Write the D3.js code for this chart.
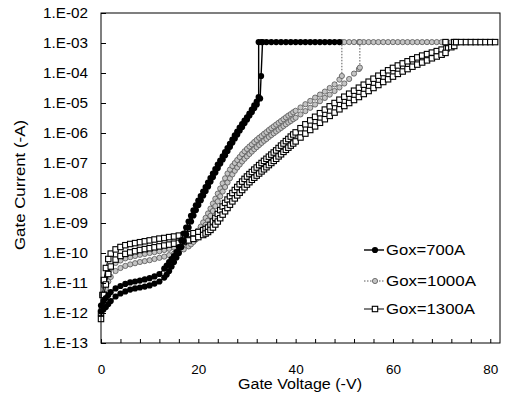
<!DOCTYPE html>
<html><head><meta charset="utf-8">
<script src="https://cdn.jsdelivr.net/npm/d3@7"></script>
<style>
body{margin:0;background:#fff}
svg{display:block}
text{font-family:Arial,"Liberation Sans",sans-serif;fill:#000}
</style>
</head><body>
<svg id="chart" width="508" height="409"></svg>
<script>
// ---------------- DATA: [gate voltage (-V), log10 of gate current (-A)] ----------------
const seriesNames = ["Gox=700A", "Gox=1000A", "Gox=1300A"];
const complianceLogI = -2.97;

// Gox=700A, two sweeps
const g700_sweep1 = [[0,-11.75],[0.5,-11.6],[1,-11.5],[1.5,-11.4],[2,-11.3],[3,-11.18],[4,-11.1],[5,-11.03],[6,-10.98],[7,-10.95],[8,-10.92],[9,-10.88],[10,-10.84],[11,-10.78],[12,-10.7],
  [13,-10.52],[13.5,-10.42],[14,-10.3],[14.5,-10.2],[15,-10.1],[15.5,-9.97],[16,-9.8],[16.5,-9.58],[17,-9.35],[17.5,-9.15],[18,-8.95],[18.5,-8.76],[19,-8.58],[19.5,-8.41],[20,-8.25],
  [20.5,-8.1],[21,-7.95],[21.5,-7.8],[22,-7.65],[22.5,-7.5],[23,-7.35],[23.5,-7.2],[24,-7.05],[24.5,-6.92],[25,-6.78],[25.5,-6.64],[26,-6.5],[26.5,-6.36],[27,-6.22],[27.5,-6.08],
  [28,-5.95],[28.5,-5.82],[29,-5.7],[29.5,-5.59],[30,-5.48],[30.5,-5.35],[31,-5.22],[31.5,-5.08],[32,-4.95],[32.4,-4.8],[32.4,-2.97]];
const g700_sweep2 = [[0,-11.95],[0.5,-11.88],[1,-11.8],[1.5,-11.7],[2,-11.6],[3,-11.45],[4,-11.35],[5,-11.28],[6,-11.22],[7,-11.18],[8,-11.15],[9,-11.12],[10,-11.08],[11,-11.02],[12,-10.95],
  [13,-10.82],[13.5,-10.72],[14,-10.6],[14.5,-10.45],[15,-10.3],[15.5,-10.15],[16,-10.0],[16.5,-9.8],[17,-9.6],[17.5,-9.38],[18,-9.15],[18.5,-8.95],[19,-8.75],[19.5,-8.57],[20,-8.4],
  [20.5,-8.24],[21,-8.08],[21.5,-7.93],[22,-7.78],[22.5,-7.62],[23,-7.47],[23.5,-7.32],[24,-7.17],[24.5,-7.02],[25,-6.88],[25.5,-6.74],[26,-6.6],[26.5,-6.46],[27,-6.32],[27.5,-6.18],
  [28,-6.05],[28.5,-5.92],[29,-5.8],[29.5,-5.67],[30,-5.55],[30.5,-5.42],[31,-5.3],[31.5,-5.17],[32,-5.05],[32.7,-4.85],[32.9,-4.1],[33.2,-2.97]];
const g700_complianceV = [33,34,35,36,37,38,39,40,41,42,43,44,45,46,47,48,49];

// Gox=1000A, two sweeps
const g1000_sweep1 = [[0,-11.9],[0.3,-11.4],[0.6,-11.1],[1,-10.9],[1.5,-10.65],[2,-10.5],[3,-10.33],[4,-10.25],[5,-10.18],[6,-10.14],[7,-10.1],[8,-10.06],[9,-10.03],[10,-10.0],[11,-9.97],[12,-9.94],
  [13,-9.9],[14,-9.86],[15,-9.82],[16,-9.78],[17,-9.7],[18,-9.6],[18.5,-9.53],[19,-9.45],[19.5,-9.36],[20,-9.25],[20.5,-9.12],[21,-8.98],[21.5,-8.83],[22,-8.68],[22.5,-8.52],[23,-8.35],
  [23.5,-8.19],[24,-8.02],[24.5,-7.85],[25,-7.68],[25.5,-7.51],[26,-7.35],[26.5,-7.22],[27,-7.1],[27.5,-7.0],[28,-6.9],[28.5,-6.8],[29,-6.7],[29.5,-6.61],[30,-6.53],[30.5,-6.45],
  [31,-6.38],[31.5,-6.3],[32,-6.23],[32.5,-6.16],[33,-6.1],[33.5,-6.03],[34,-5.97],[34.5,-5.9],[35,-5.84],[35.5,-5.78],[36,-5.72],[36.5,-5.66],[37,-5.6],[37.5,-5.54],[38,-5.48],
  [38.5,-5.42],[39,-5.37],[39.5,-5.31],[40,-5.26],[41,-5.15],[42,-5.04],[43,-4.93],[44,-4.82],[45,-4.72],[46,-4.62],[47,-4.5],[48,-4.38],[49,-4.22],[49.5,-4.1],[49.5,-2.97]];
const g1000_sweep2 = [[0,-12.1],[0.3,-11.7],[0.6,-11.4],[1,-11.2],[1.5,-10.95],[2,-10.8],[3,-10.6],[4,-10.5],[5,-10.43],[6,-10.38],[7,-10.34],[8,-10.3],[9,-10.27],[10,-10.24],[11,-10.2],
  [12,-10.16],[13,-10.12],[14,-10.07],[15,-10.02],[16,-9.96],[17,-9.88],[18,-9.78],[18.5,-9.71],[19,-9.63],[19.5,-9.55],[20,-9.45],[20.5,-9.33],[21,-9.2],[21.5,-9.06],[22,-8.92],
  [22.5,-8.76],[23,-8.6],[23.5,-8.44],[24,-8.28],[24.5,-8.11],[25,-7.95],[25.5,-7.8],[26,-7.65],[26.5,-7.51],[27,-7.38],[27.5,-7.26],[28,-7.15],[28.5,-7.05],[29,-6.95],[29.5,-6.86],
  [30,-6.78],[30.5,-6.7],[31,-6.62],[31.5,-6.54],[32,-6.47],[32.5,-6.4],[33,-6.33],[33.5,-6.26],[34,-6.2],[34.5,-6.13],[35,-6.07],[35.5,-6.01],[36,-5.95],[36.5,-5.89],[37,-5.83],
  [37.5,-5.77],[38,-5.71],[38.5,-5.65],[39,-5.6],[39.5,-5.54],[40,-5.49],[41,-5.38],[42,-5.27],[43,-5.16],[44,-5.05],[45,-4.94],[46,-4.83],[47,-4.72],[48,-4.6],[49,-4.48],[50,-4.35],
  [51,-4.2],[52,-4.02],[53,-3.87],[53.2,-3.82],[53.2,-2.97]];
const g1000_complianceV = [50,51,52,53,54,55,56,57,58,59,60,61,62,63,64,65,66,67,68,69,70,71,72];

// Gox=1300A, two sweeps
const g1300_sweep1 = [[0,-12.0],[0.3,-11.4],[0.6,-10.9],[1,-10.5],[1.5,-10.2],[2,-10.02],[3,-9.88],[4,-9.8],[5,-9.74],[6,-9.7],[7,-9.67],[8,-9.64],[9,-9.61],[10,-9.58],[11,-9.55],[12,-9.52],
  [13,-9.5],[14,-9.47],[15,-9.45],[16,-9.42],[17,-9.4],[18,-9.37],[19,-9.34],[20,-9.3],[21,-9.24],[21.5,-9.2],[22,-9.15],[22.5,-9.06],[23,-8.95],[23.5,-8.83],[24,-8.7],[24.5,-8.57],
  [25,-8.45],[25.5,-8.33],[26,-8.22],[26.5,-8.11],[27,-8.0],[27.5,-7.9],[28,-7.8],[28.5,-7.71],[29,-7.62],[29.5,-7.53],[30,-7.45],[30.5,-7.37],[31,-7.3],[31.5,-7.22],[32,-7.15],
  [32.5,-7.07],[33,-7.0],[33.5,-6.93],[34,-6.86],[34.5,-6.79],[35,-6.72],[35.5,-6.65],[36,-6.58],[36.5,-6.5],[37,-6.42],[37.5,-6.35],[38,-6.27],[38.5,-6.2],[39,-6.12],[39.5,-6.05],
  [40,-5.98],[41,-5.84],[42,-5.71],[43,-5.58],[44,-5.46],[45,-5.34],[46,-5.22],[47,-5.11],[48,-5.0],[49,-4.89],[50,-4.79],[51,-4.69],[52,-4.59],[53,-4.49],[54,-4.39],[55,-4.29],
  [56,-4.19],[57,-4.09],[58,-4.0],[59,-3.91],[60,-3.83],[61,-3.75],[62,-3.68],[63,-3.61],[64,-3.54],[65,-3.48],[66,-3.42],[67,-3.37],[68,-3.32],[69,-3.27],[70,-3.22],[71,-3.18],
  [72,-3.14],[72.6,-3.1],[72.6,-2.97]];
const g1300_sweep2 = [[0,-12.2],[0.3,-11.8],[0.6,-11.4],[1,-11.05],[1.5,-10.7],[2,-10.45],[3,-10.22],[4,-10.1],[5,-10.03],[6,-9.98],[7,-9.94],[8,-9.9],[9,-9.87],[10,-9.84],[11,-9.81],
  [12,-9.78],[13,-9.75],[14,-9.72],[15,-9.69],[16,-9.66],[17,-9.62],[18,-9.58],[19,-9.53],[20,-9.47],[21,-9.4],[21.5,-9.35],[22,-9.3],[22.5,-9.23],[23,-9.15],[23.5,-9.05],[24,-8.95],
  [24.5,-8.84],[25,-8.72],[25.5,-8.61],[26,-8.5],[26.5,-8.39],[27,-8.28],[27.5,-8.18],[28,-8.08],[28.5,-7.99],[29,-7.9],[29.5,-7.81],[30,-7.72],[30.5,-7.64],[31,-7.56],[31.5,-7.49],
  [32,-7.42],[32.5,-7.35],[33,-7.28],[33.5,-7.21],[34,-7.14],[34.5,-7.07],[35,-7.0],[35.5,-6.93],[36,-6.86],[36.5,-6.78],[37,-6.71],[37.5,-6.63],[38,-6.56],[38.5,-6.49],[39,-6.42],
  [39.5,-6.35],[40,-6.28],[41,-6.15],[42,-6.02],[43,-5.9],[44,-5.78],[45,-5.66],[46,-5.54],[47,-5.43],[48,-5.32],[49,-5.21],[50,-5.1],[51,-5.0],[52,-4.9],[53,-4.8],[54,-4.7],
  [55,-4.6],[56,-4.5],[57,-4.4],[58,-4.3],[59,-4.21],[60,-4.12],[61,-4.03],[62,-3.95],[63,-3.87],[64,-3.79],[65,-3.72],[66,-3.65],[67,-3.58],[68,-3.51],[69,-3.45],[70,-3.39],
  [70.8,-3.33],[70.8,-2.97]];
const g1300_complianceV = [73,74,75,76,77,78,79,80,81];

// Axis ticks
const xTickValues = [0,4,8,12,16,20,24,28,32,36,40,44,48,52,56,60,64,68,72,76,80];
const xTickLabels = ["0","20","40","60","80"];
const yTickValues = [1e-13,1e-12,1e-11,1e-10,1e-9,1e-8,1e-7,1e-6,1e-5,1e-4,1e-3,1e-2];
const yTickLabels = ["1.E-13","1.E-12","1.E-11","1.E-10","1.E-09","1.E-08","1.E-07","1.E-06","1.E-05","1.E-04","1.E-03","1.E-02"];

// ---------------- BUILD ----------------
const svg = d3.select("#chart");
const x = d3.scaleLinear().domain([0, 82]).range([101, 500]);
const y = d3.scaleLog().domain([1e-13, 1e-2]).range([343, 13]);

const pts = P => P.map(p => ({ v: p[0], i: Math.pow(10, p[1]) }));
const comp = V => V.map(v => ({ v: v, i: Math.pow(10, complianceLogI) }));

const curves = [
  { s: 1, data: pts(g1000_sweep1).concat(comp(g1000_complianceV)) },
  { s: 1, data: pts(g1000_sweep2) },
  { s: 2, data: pts(g1300_sweep1).concat(comp(g1300_complianceV)) },
  { s: 2, data: pts(g1300_sweep2) },
  { s: 0, data: pts(g700_sweep1).concat(comp(g700_complianceV)) },
  { s: 0, data: pts(g700_sweep2) }
];

const styles = [
  { line: "#000", lw: 1.4, dash: null },
  { line: "#5a5a5a", lw: 1, dash: "1.5,1.5" },
  { line: "#000", lw: 1, dash: null }
];

const line = d3.line().x(d => x(d.v)).y(d => y(d.i));

function drawMarker(g, s, cx, cy) {
  if (s === 0) {
    g.append("circle").attr("cx", cx).attr("cy", cy).attr("r", 3.1).attr("fill", "#000");
  } else if (s === 1) {
    g.append("circle").attr("cx", cx).attr("cy", cy).attr("r", 2.6)
      .attr("fill", "#c4c4c4").attr("stroke", "#555").attr("stroke-width", 0.8);
  } else {
    g.append("rect").attr("x", cx - 2.7).attr("y", cy - 2.7).attr("width", 5.4).attr("height", 5.4)
      .attr("fill", "#fff").attr("stroke", "#000").attr("stroke-width", 1.1);
  }
}

const plot = svg.append("g");
curves.forEach(c => {
  const st = styles[c.s];
  const g = plot.append("g");
  g.append("path").attr("d", line(c.data)).attr("fill", "none")
    .attr("stroke", st.line).attr("stroke-width", st.lw)
    .attr("stroke-dasharray", st.dash);
  c.data.forEach(d => drawMarker(g, c.s, x(d.v), y(d.i)));
});

// frame
svg.append("rect").attr("x", 101).attr("y", 13).attr("width", 399).attr("height", 330)
  .attr("fill", "none").attr("stroke", "#000").attr("stroke-width", 1);

// Y axis
const yAxis = d3.axisLeft(y).tickValues(yTickValues).tickSize(-5).tickPadding(13)
  .tickFormat((d, i) => yTickLabels[i]);
const gy = svg.append("g").attr("transform", "translate(101,0)").call(yAxis);
gy.select(".domain").remove();
gy.selectAll("line").attr("stroke", "#000");
gy.selectAll("text").attr("font-size", 14).attr("font-family", "Arial, 'Liberation Sans', sans-serif")
  .attr("textLength", 45).attr("lengthAdjust", "spacingAndGlyphs").attr("dy", "0.3em");

// X axis
const xAxis = d3.axisBottom(x).tickValues(xTickValues).tickSize(-4).tickPadding(21)
  .tickFormat(d => (d % 20 === 0 ? xTickLabels[d / 20] : ""));
const gx = svg.append("g").attr("transform", "translate(0,343)").call(xAxis);
gx.select(".domain").remove();
gx.selectAll("line").attr("stroke", "#000");
gx.selectAll("text").attr("font-size", 13.5).attr("font-family", "Arial, 'Liberation Sans', sans-serif");

// Axis titles
svg.append("text").attr("x", 300).attr("y", 389).attr("text-anchor", "middle")
  .attr("font-size", 14).attr("textLength", 124).attr("lengthAdjust", "spacingAndGlyphs")
  .text("Gate Voltage (-V)");
svg.append("text").attr("transform", "translate(25,185) rotate(-90)").attr("text-anchor", "middle")
  .attr("font-size", 14).attr("textLength", 130).attr("lengthAdjust", "spacingAndGlyphs")
  .text("Gate Current (-A)");

// Legend
const legendY = [250, 281, 309];
const legendW = [79, 90, 89];
seriesNames.forEach((name, k) => {
  const st = styles[k];
  const g = svg.append("g");
  g.append("line").attr("x1", 364).attr("x2", 384).attr("y1", legendY[k]).attr("y2", legendY[k])
    .attr("stroke", st.line).attr("stroke-width", st.lw).attr("stroke-dasharray", st.dash);
  drawMarker(g, k, 375, legendY[k]);
  g.append("text").attr("x", 386).attr("y", legendY[k] + 5).attr("font-size", 14)
    .attr("textLength", legendW[k]).attr("lengthAdjust", "spacingAndGlyphs").text(name);
});
</script>
</body></html>
